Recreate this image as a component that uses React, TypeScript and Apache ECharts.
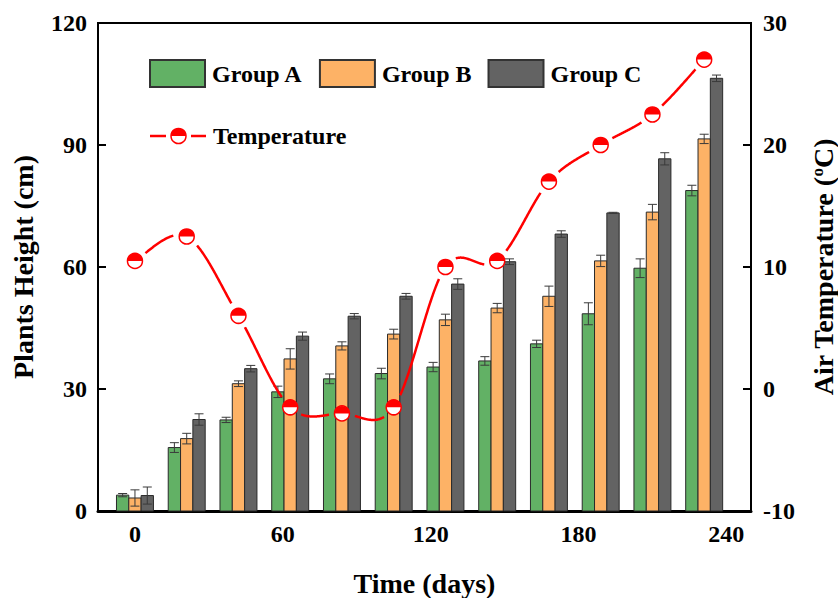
import React, { useEffect, useRef } from "react";
import * as echarts from "echarts";

const days = [0, 21, 42, 63, 84, 105, 126, 147, 168, 189, 210, 231];
const groupA = [3.9, 15.6, 22.4, 29.3, 32.5, 33.8, 35.4, 36.9, 41.1, 48.5, 59.7, 78.8];
const groupB = [3.2, 17.8, 31.3, 37.4, 40.6, 43.5, 47.0, 49.9, 52.8, 61.5, 73.5, 91.5];
const groupC = [3.8, 22.5, 35.0, 43.0, 47.9, 52.8, 55.8, 61.3, 68.1, 73.3, 86.6, 106.4];
const errA = [0.4, 1.2, 0.65, 1.4, 1.2, 1.3, 1.15, 1.05, 0.9, 2.7, 2.3, 1.3];
const errB = [2.0, 1.3, 0.7, 2.5, 1.0, 1.2, 1.4, 1.15, 2.5, 1.4, 1.9, 1.15];
const errC = [2.1, 1.4, 0.8, 1.0, 0.65, 0.7, 1.3, 0.7, 0.8, 0.15, 1.5, 0.8];
const temperature = [10.5, 12.5, 6.0, -1.5, -2.0, -1.5, 10.0, 10.5, 17.0, 20.0, 22.5, 27.0];
const xTickLabels = [0, 60, 120, 180, 240];
const groupNames = ["Group A", "Group B", "Group C"];

const FONT = '"Liberation Serif", "Times New Roman", serif';
const COLORS = ["#62B165", "#FDB266", "#636363"];
const BAR_DAYS = 5;
const RED = "#FF0000";

function barSeries(name: string, vals: number[], errs: number[], offset: number, color: string) {
  return {
    name,
    type: "custom",
    xAxisIndex: 0,
    yAxisIndex: 0,
    itemStyle: { color, borderColor: "#333", borderWidth: 1 },
    encode: { x: 0, y: 1 },
    data: days.map((d, i) => [d, vals[i], errs[i]]),
    z: 2,
    renderItem: (params: any, api: any) => {
      const x = api.value(0) + offset;
      const v = api.value(1);
      const e = api.value(2);
      const w = api.size([BAR_DAYS, 0])[0];
      const top = api.coord([x, v]);
      const base = api.coord([x, 0]);
      const eTop = api.coord([x, v + e]);
      const eBot = api.coord([x, v - e]);
      const cx = top[0];
      const cap = 4.5;
      return {
        type: "group",
        children: [
          {
            type: "rect",
            shape: { x: cx - w / 2, y: top[1], width: w, height: base[1] - top[1] },
            style: { fill: color, stroke: "#2a2a2a", lineWidth: 1 },
          },
          {
            type: "line",
            shape: { x1: cx, y1: eTop[1], x2: cx, y2: eBot[1] },
            style: { stroke: "#3a3a3a", lineWidth: 1 },
          },
          {
            type: "line",
            shape: { x1: cx - cap, y1: eTop[1], x2: cx + cap, y2: eTop[1] },
            style: { stroke: "#3a3a3a", lineWidth: 1 },
          },
          {
            type: "line",
            shape: { x1: cx - cap, y1: eBot[1], x2: cx + cap, y2: eBot[1] },
            style: { stroke: "#3a3a3a", lineWidth: 1 },
          },
        ],
      };
    },
  };
}

const GAP_R = 13;
const MARK_R = 7.5;

function tempSeries() {
  return {
    name: "Temperature",
    type: "custom",
    xAxisIndex: 0,
    yAxisIndex: 1,
    encode: { x: 0, y: 1 },
    data: days.map((d, i) => [d, temperature[i]]),
    z: 5,
    renderItem: (params: any, api: any) => {
      const i = params.dataIndex;
      const n = days.length;
      const P = days.map((d, j) => api.coord([d, temperature[j]]));
      const children: any[] = [];
      if (i < n - 1) {
        const p0 = P[i];
        const p1 = P[i + 1];
        const pm = P[Math.max(i - 1, 0)];
        const pp = P[Math.min(i + 2, n - 1)];
        const m0 = [(p1[0] - pm[0]) / 2, (p1[1] - pm[1]) / 2];
        const m1 = [(pp[0] - p0[0]) / 2, (pp[1] - p0[1]) / 2];
        const pts: number[][] = [];
        const steps = 80;
        for (let k = 0; k <= steps; k++) {
          const t = k / steps;
          const t2 = t * t;
          const t3 = t2 * t;
          const h00 = 2 * t3 - 3 * t2 + 1;
          const h10 = t3 - 2 * t2 + t;
          const h01 = -2 * t3 + 3 * t2;
          const h11 = t3 - t2;
          const x = h00 * p0[0] + h10 * m0[0] + h01 * p1[0] + h11 * m1[0];
          const y = h00 * p0[1] + h10 * m0[1] + h01 * p1[1] + h11 * m1[1];
          const d0 = Math.hypot(x - p0[0], y - p0[1]);
          const d1 = Math.hypot(x - p1[0], y - p1[1]);
          if (d0 > GAP_R && d1 > GAP_R) pts.push([x, y]);
        }
        if (pts.length > 1) {
          children.push({
            type: "polyline",
            shape: { points: pts },
            style: { stroke: RED, lineWidth: 2.5, fill: null },
          });
        }
      }
      const c = P[i];
      children.push({
        type: "circle",
        shape: { cx: c[0], cy: c[1], r: MARK_R },
        style: { fill: "#fff", stroke: RED, lineWidth: 1.5 },
      });
      children.push({
        type: "sector",
        shape: { cx: c[0], cy: c[1], r: MARK_R, r0: 0, startAngle: Math.PI, endAngle: Math.PI * 2, clockwise: true },
        style: { fill: RED },
      });
      return { type: "group", children };
    },
  };
}

const labelStyle = { fontFamily: FONT, fontSize: 24, fontWeight: "bold", color: "#000" };
const nameStyle = { fontFamily: FONT, fontSize: 28, fontWeight: "bold", color: "#000" };

export default function App() {
  const ref = useRef<HTMLDivElement>(null);
  useEffect(() => {
    if (!ref.current) return;
    const chart = echarts.init(ref.current, null, { renderer: "svg" });
    const ly = 136;
    chart.setOption({
      animation: false,
      backgroundColor: "#fff",
      textStyle: { fontFamily: FONT },
      grid: {
        left: 98,
        right: 87,
        top: 23,
        bottom: 87,
        outerBoundsMode: "none",
        containLabel: false,
        show: true,
        borderColor: "#000",
        borderWidth: 2,
        backgroundColor: "transparent",
      },
      legend: {
        data: groupNames,
        left: 149,
        top: 59,
        padding: 0,
        itemWidth: 55,
        itemHeight: 27,
        itemGap: 16,
        icon: "rect",
        selectedMode: false,
        textStyle: { ...labelStyle, padding: [0, 0, 0, 2] },
      },
      xAxis: {
        type: "value",
        min: -15,
        max: 250,
        axisLine: { show: true, onZero: false, lineStyle: { color: "#000", width: 3 } },
        axisTick: { show: false },
        splitLine: { show: false },
        axisLabel: { ...labelStyle, margin: 11, customValues: xTickLabels },
        name: "Time (days)",
        nameLocation: "middle",
        nameGap: 58,
        nameTextStyle: nameStyle,
      },
      yAxis: [
        {
          type: "value",
          position: "left",
          min: 0,
          max: 120,
          interval: 30,
          axisLine: { show: true, onZero: false, lineStyle: { color: "#000", width: 2 } },
          axisTick: { show: true, inside: true, length: 8, lineStyle: { color: "#000", width: 2 } },
          splitLine: { show: false },
          axisLabel: { ...labelStyle, margin: 11 },
          name: "Plants Height (cm)",
          nameLocation: "middle",
          nameGap: 61,
          nameRotate: 90,
          nameTextStyle: nameStyle,
        },
        {
          type: "value",
          position: "right",
          min: -10,
          max: 30,
          interval: 10,
          axisLine: { show: true, onZero: false, lineStyle: { color: "#000", width: 2 } },
          axisTick: { show: true, inside: true, length: 8, lineStyle: { color: "#000", width: 2 } },
          splitLine: { show: false },
          axisLabel: { ...labelStyle, margin: 12 },
          name: "{t|Air Temperature (}{s|o}{t|C)}",
          nameLocation: "middle",
          nameGap: 58,
          nameRotate: 90,
          nameTextStyle: {
            ...nameStyle,
            rich: {
              t: { ...nameStyle },
              s: { fontFamily: FONT, fontSize: 17, fontWeight: "bold", color: "#000", verticalAlign: "top" },
            },
          },
        },
      ],
      graphic: [
        { type: "line", shape: { x1: 150, y1: ly, x2: 166, y2: ly }, style: { stroke: RED, lineWidth: 2.5 } },
        { type: "line", shape: { x1: 191, y1: ly, x2: 206, y2: ly }, style: { stroke: RED, lineWidth: 2.5 } },
        { type: "circle", shape: { cx: 178.5, cy: ly, r: MARK_R }, style: { fill: "#fff", stroke: RED, lineWidth: 1.5 } },
        {
          type: "sector",
          shape: { cx: 178.5, cy: ly, r: MARK_R, r0: 0, startAngle: Math.PI, endAngle: Math.PI * 2, clockwise: true },
          style: { fill: RED },
        },
        {
          type: "text",
          x: 213,
          y: ly,
          style: { text: "Temperature", fontFamily: FONT, fontSize: 24, fontWeight: "bold", fill: "#000", verticalAlign: "middle", align: "left" },
        },
      ],
      series: [
        barSeries(groupNames[0], groupA, errA, -BAR_DAYS, COLORS[0]),
        barSeries(groupNames[1], groupB, errB, 0, COLORS[1]),
        barSeries(groupNames[2], groupC, errC, BAR_DAYS, COLORS[2]),
        tempSeries(),
      ],
    });
    return () => chart.dispose();
  }, []);
  return <div ref={ref} style={{ position: "fixed", left: 0, top: 0, width: 838, height: 598 }} />;
}
